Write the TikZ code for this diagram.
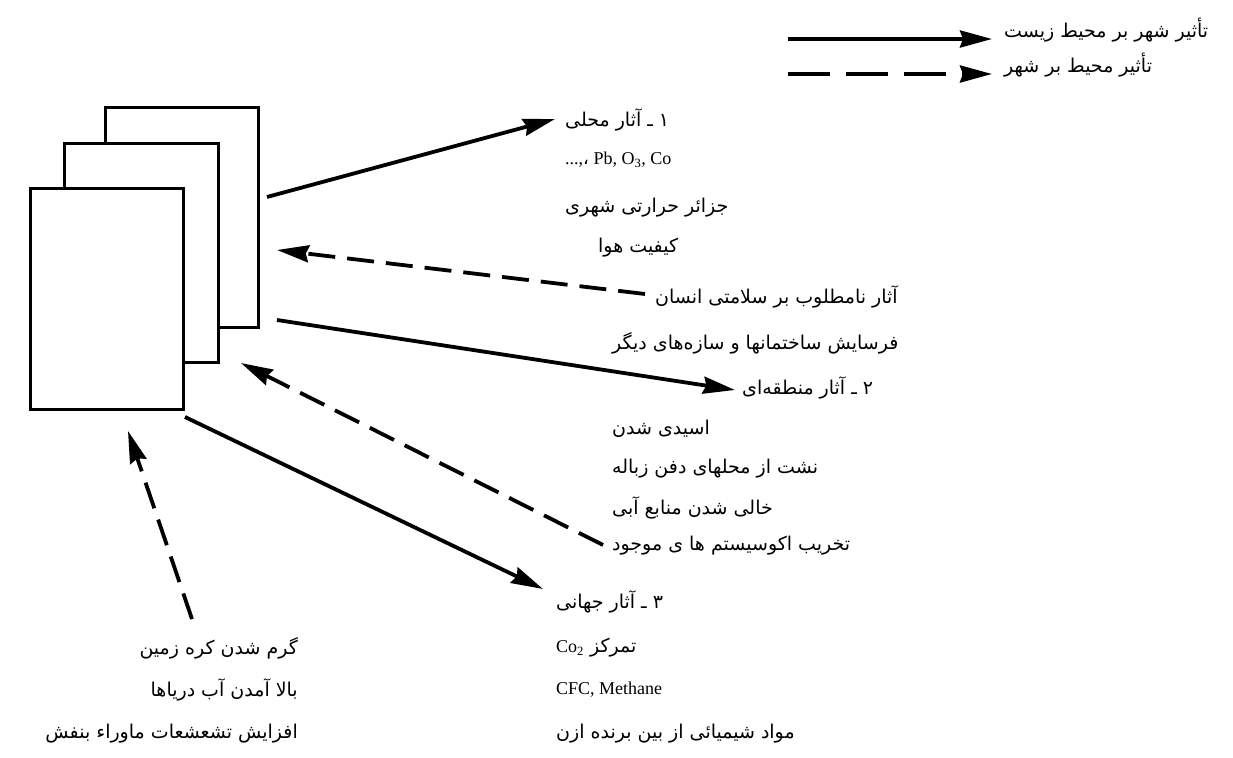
\documentclass[tikz,border=0pt]{standalone}
\usepackage{fontspec}
\setmainfont{Liberation Serif}
\newfontfamily\fa[Script=Arabic]{DejaVu Sans}
\TeXXeTstate=1
\usetikzlibrary{arrows.meta}
\begin{document}
\begin{tikzpicture}[x=1pt,y=-1pt,
  card/.style={draw, line width=2.6pt, fill=white, inner sep=0pt, anchor=north west},
  eff/.style={line width=3.8pt, -{Stealth[length=32pt,width=17pt,inset=3pt]}},
  fb/.style={eff, dash pattern=on 27pt off 12pt},
  fbl/.style={eff, dash pattern=on 42pt off 16pt},
  fat/.style={font=\fa\fontsize{19}{22}\selectfont, inner sep=0pt},
  lat/.style={font=\fontsize{18}{21}\selectfont, inner sep=0pt}]
\useasboundingbox (0,0) rectangle (1233,757);

% stacked sheets
\node[card, minimum width=153pt, minimum height=220pt] (back) at (104,106) {};
\node[card, minimum width=154pt, minimum height=219pt] (mid) at (63,142) {};
\node[card, minimum width=153pt, minimum height=221pt] (front) at (29,187) {};

% legend
\node[fat, anchor=west] (lg1) at (1004,30) {\beginR تأثیر شهر بر محیط زیست\endR};
\node[fat, anchor=west] (lg2) at (1004,65) {\beginR تأثیر محیط بر شهر\endR};
\coordinate (lg1s) at (788,39);  \coordinate (lg1e) at (992,39);
\coordinate (lg2s) at (788,74);  \coordinate (lg2e) at (992,74);
\draw[eff] (lg1s) -- (lg1e);
\draw[fbl] (lg2s) -- (lg2e);

% local effects
\node[fat, anchor=west] (l1) at (565,120) {\beginR ۱ ـ آثار محلی\endR};
\node[lat, anchor=west] (l2) at (565,160) {...,{\fa ،} Pb, O\textsubscript{3}, Co};
\node[fat, anchor=west] (l3) at (565,208) {\beginR جزائر حرارتی شهری\endR};
\node[fat, anchor=west] (l4) at (598,248) {\beginR کیفیت هوا\endR};
\node[fat, anchor=west] (l5) at (655,297) {\beginR آثار نامطلوب بر سلامتی انسان\endR};
\node[fat, anchor=west] (l6) at (612,343) {\beginR فرسایش ساختمانها و سازه‌های دیگر\endR};
% regional effects
\node[fat, anchor=west] (l7) at (742,388) {\beginR ۲ ـ آثار منطقه‌ای\endR};
\node[fat, anchor=west] (l8) at (612,429) {\beginR اسیدی شدن\endR};
\node[fat, anchor=west] (l9) at (612,469) {\beginR نشت از محلهای دفن زباله\endR};
\node[fat, anchor=west] (l10) at (612,508) {\beginR خالی شدن منابع آبی\endR};
\node[fat, anchor=west] (l11) at (612,546) {\beginR تخریب اکوسیستم ها ی موجود\endR};
% global effects
\node[fat, anchor=west] (l12) at (556,602) {\beginR ۳ ـ آثار جهانی\endR};
\node[fat, anchor=west] (l13) at (556,648) {\beginR تمرکز \beginL{\rmfamily\fontsize{18}{21}\selectfont Co\textsubscript{2}}\endL\endR};
\node[lat, anchor=west] (l14) at (556,690) {CFC, Methane};
\node[fat, anchor=west] (l15) at (556,734) {\beginR مواد شیمیائی از بین برنده ازن\endR};
% bottom left
\node[fat, anchor=east] (b1) at (298,648) {\beginR گرم شدن کره زمین\endR};
\node[fat, anchor=east] (b2) at (298,690) {\beginR بالا آمدن آب دریاها\endR};
\node[fat, anchor=east] (b3) at (298,734) {\beginR افزایش تشعشعات ماوراء بنفش\endR};

% connectors
\coordinate (a1s) at (267,197);  \coordinate (a1e) at (555,119);
\coordinate (a2s) at (645,294);  \coordinate (a2e) at (277,250);
\coordinate (a3s) at (277,320);  \coordinate (a3e) at (735,390);
\coordinate (a4s) at (603,545);  \coordinate (a4e) at (241,363);
\coordinate (a5s) at (185,417);  \coordinate (a5e) at (543,589);
\coordinate (a6s) at (192,619);  \coordinate (a6e) at (128,431);
\draw[eff] (a1s) -- (a1e);
\draw[fb]  (a2s) -- (a2e);
\draw[eff] (a3s) -- (a3e);
\draw[fb]  (a4s) -- (a4e);
\draw[eff] (a5s) -- (a5e);
\draw[fb]  (a6s) -- (a6e);
\end{tikzpicture}
\end{document}
